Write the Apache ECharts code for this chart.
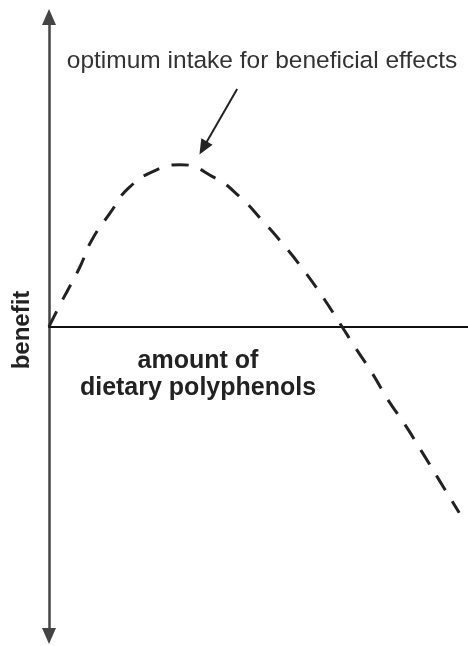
<html>

<head>
    <script src="https://cdn.jsdelivr.net/npm/echarts@6/dist/echarts.min.js"></script>
    <style>
        body {
            margin: 0;
            background: #fff;
        }

        #graph {
            width: 468px;
            height: 646px;
        }
    </style>
</head>

<body>
    <div id="graph"></div>
    <script>
        // amount of dietary polyphenols (x) vs. benefit (y)
        var intake = [0, 3.0, 4.5, 7.4, 10.2, 14.6, 18.9, 25.3, 31.3, 39.6, 45.6, 50.8, 55.6, 60.4, 64.7, 69.9, 73.0, 77.1, 80.9, 85.0, 89.0, 92.8, 97.9];
        var benefit = [0, 8.0, 11.8, 19.3, 27.9, 36.7, 44.6, 50.4, 52.3, 48.0, 41.8, 34.4, 27.0, 18.9, 10.8, 0, -6.6, -15.0, -23.7, -31.8, -40.5, -48.9, -60.2];

        // annotation arrow: from label down to the optimum
        var arrowFrom = [44.9, 76.7];
        var arrowTo = [36.8, 57.7];

        var topLabel = 'optimum intake for beneficial effects';
        var xLabel = 'amount of\ndietary polyphenols';
        var yLabel = 'benefit';

        var points = [];
        for (var i = 0; i < intake.length; i++) {
            points.push([intake[i], benefit[i]]);
        }

        var myChart = echarts.init(document.getElementById('graph'));
        var option = {
            animation: false,
            backgroundColor: '#fff',
            grid: { left: 49, right: 0, top: 17, bottom: 10 },
            xAxis: {
                type: 'value',
                min: 0,
                max: 100,
                axisLine: { onZero: true, lineStyle: { color: '#111', width: 2 } },
                axisTick: { show: false },
                axisLabel: { show: false },
                splitLine: { show: false }
            },
            yAxis: {
                type: 'value',
                min: -100,
                max: 100,
                axisLine: {
                    show: true,
                    symbol: ['triangle', 'triangle'],
                    symbolSize: [14, 16],
                    lineStyle: { color: '#444', width: 2.5 }
                },
                axisTick: { show: false },
                axisLabel: { show: false },
                splitLine: { show: false }
            },
            series: [{
                type: 'line',
                data: points,
                smooth: 0.5,
                showSymbol: false,
                lineStyle: { color: '#222', width: 3, type: [17, 13] },
                markLine: {
                    silent: true,
                    symbol: ['none', 'triangle'],
                    symbolSize: [13, 15],
                    label: { show: false },
                    lineStyle: { color: '#222', width: 2, type: 'solid' },
                    data: [[{ coord: arrowFrom }, { coord: arrowTo }]]
                }
            }],
            graphic: [
                {
                    type: 'text',
                    x: 262,
                    y: 61,
                    style: {
                        text: topLabel,
                        font: '24.5px "Liberation Sans", Arial, sans-serif',
                        fill: '#333',
                        textAlign: 'center',
                        textVerticalAlign: 'middle'
                    }
                },
                {
                    type: 'text',
                    x: 198,
                    y: 375,
                    style: {
                        text: xLabel,
                        font: 'bold 25px "Liberation Sans", Arial, sans-serif',
                        lineHeight: 27,
                        fill: '#222',
                        textAlign: 'center',
                        textVerticalAlign: 'middle'
                    }
                },
                {
                    type: 'text',
                    x: 22,
                    y: 330,
                    rotation: Math.PI / 2,
                    style: {
                        text: yLabel,
                        font: 'bold 24px "Liberation Sans", Arial, sans-serif',
                        fill: '#222',
                        textAlign: 'center',
                        textVerticalAlign: 'middle'
                    }
                }
            ]
        };
        myChart.setOption(option);
    </script>
</body>

</html>
